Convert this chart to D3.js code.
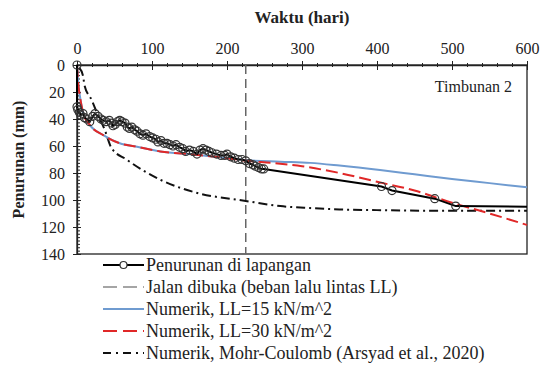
<!DOCTYPE html>
<html>
<head>
<meta charset="utf-8">
<script src="https://cdn.jsdelivr.net/npm/d3@7"></script>
<style>
  body { margin: 0; background: #fff; }
  svg { display: block; }
  svg text { font-family: 'Liberation Serif', 'DejaVu Serif', serif; fill: #222; }
</style>
</head>
<body>
<svg width="542" height="369"></svg>
<script>
// field measurements (days, mm)
const fieldDays = [0, 0, 1, 3, 5, 8, 10, 13, 17, 21, 24, 28, 32, 35, 39, 43, 46, 48, 51, 54, 57, 60, 64, 67, 70, 73, 77, 80, 84, 88, 92, 97, 101, 105, 108, 112, 116, 120, 124, 128, 132, 137, 141, 145, 150, 155, 160, 164, 168, 172, 176, 180, 186, 192, 197, 200, 205, 210, 215, 220, 225, 230, 235, 238, 242, 246, 249, 406, 420, 477, 505];
const fieldSettle = [0, 31, 33, 35, 37, 36, 39, 40, 42, 38, 36, 38, 40, 41, 42, 41, 43, 45, 44, 42, 41, 42, 43, 46, 47, 46, 48, 49, 51, 52, 51, 53, 54, 55, 57, 56, 58, 58, 59, 60, 59, 61, 62, 64, 63, 64, 66, 63, 62, 63, 64, 65, 66, 67, 67, 66, 68, 69, 70, 70, 71, 73, 74, 75, 76, 77, 77, 90, 93, 99, 104.5];
const fieldEnd = [600, 105];

// numerical LL = 15 kN/m^2
const ll15Days = [0, 1.5, 4, 8.5, 17, 35, 57, 80, 111, 155, 200, 226, 271, 311, 350, 404, 450, 500, 550, 600];
const ll15Settle = [0, 13, 23.5, 36, 44.4, 52, 58, 60.5, 64, 66.3, 69, 70.5, 71.6, 72.5, 74.5, 77.8, 81, 84.5, 87.5, 90.6];

// numerical LL = 30 kN/m^2
const ll30Days = [0, 1.5, 4, 8.5, 17, 35, 57, 80, 111, 155, 200, 226, 260, 300, 350, 400, 450, 500, 550, 600];
const ll30Settle = [0, 13, 23.5, 36, 44.4, 52, 58, 60.5, 64, 66.3, 69, 71, 72.5, 75, 80, 86.5, 93, 102, 110, 118.5];

// Mohr-Coulomb (Arsyad et al., 2020)
const mcDays = [3, 8, 10, 19.6, 26, 37, 46, 66, 111, 155, 225, 271, 311, 350, 400, 500, 600];
const mcSettle = [2, 8, 15, 26, 34.6, 48, 61.5, 70, 85, 94, 100.7, 104.5, 106, 107, 107.5, 108, 108];

const roadOpenDay = 225;

const xTicks = [0, 100, 200, 300, 400, 500, 600];
const yTicks = [0, 20, 40, 60, 80, 100, 120, 140];

const legendLabels = [
  'Penurunan di lapangan',
  'Jalan dibuka (beban lalu lintas LL)',
  'Numerik, LL=15 kN/m^2',
  'Numerik, LL=30 kN/m^2',
  'Numerik, Mohr-Coulomb (Arsyad et al., 2020)'
];

const svg = d3.select('svg');
const pLeft = 77, pRight = 527, pTop = 65, pBottom = 254;
const serif = "'Liberation Serif', 'DejaVu Serif', serif";

const x = d3.scaleLinear().domain([0, 600]).range([pLeft, pRight]);
const y = d3.scaleLinear().domain([0, 140]).range([pTop, pBottom]);

const zip = (a, b) => a.map((d, i) => [d, b[i]]);
const line = d3.line().x(d => x(d[0])).y(d => y(d[1]));
const smooth = d3.line().x(d => x(d[0])).y(d => y(d[1])).curve(d3.curveMonotoneX);

// frame
svg.append('rect')
  .attr('x', pLeft).attr('y', pTop)
  .attr('width', pRight - pLeft).attr('height', pBottom - pTop)
  .attr('fill', 'none').attr('stroke', '#222').attr('stroke-width', 1.3);

// x axis on top
const xMinor = d3.range(0, 601, 20);
svg.append('g').attr('transform', `translate(0,${pTop})`)
  .call(d3.axisTop(x).tickValues(xMinor).tickSize(2).tickFormat(''))
  .call(g => g.select('.domain').remove());
svg.append('g').attr('transform', `translate(0,${pTop})`)
  .call(d3.axisTop(x).tickValues(xMinor).tickSize(-2).tickFormat(''))
  .call(g => g.select('.domain').remove());
svg.append('g').attr('transform', `translate(0,${pTop})`)
  .call(d3.axisTop(x).tickValues(xTicks).tickSize(-5).tickFormat(''))
  .call(g => g.select('.domain').remove());
svg.append('g').attr('transform', `translate(0,${pTop})`)
  .call(d3.axisTop(x).tickValues(xTicks).tickSizeInner(4).tickSizeOuter(0).tickPadding(7))
  .attr('font-family', serif).attr('font-size', 16)
  .call(g => g.select('.domain').attr('stroke', '#222').attr('stroke-width', 1.3))
  .call(g => g.selectAll('text').attr('fill', '#222'));

// y axis
const yMinor = d3.range(0, 140.1, 2.5);
svg.append('g').attr('transform', `translate(${pLeft},0)`)
  .call(d3.axisLeft(y).tickValues(yMinor).tickSize(-3).tickFormat(''))
  .call(g => g.select('.domain').remove());
svg.append('g').attr('transform', `translate(${pLeft},0)`)
  .call(d3.axisLeft(y).tickValues(yTicks).tickSize(-4).tickFormat(''))
  .call(g => g.select('.domain').remove());
svg.append('g').attr('transform', `translate(${pLeft},0)`)
  .call(d3.axisLeft(y).tickValues(yTicks).tickSizeInner(4).tickSizeOuter(0).tickPadding(8))
  .attr('font-family', serif).attr('font-size', 16)
  .call(g => g.select('.domain').attr('stroke', '#222').attr('stroke-width', 1.3))
  .call(g => g.selectAll('text').attr('fill', '#222'));
svg.selectAll('.tick line').attr('stroke', '#222');

// axis titles
svg.append('text')
  .attr('x', (pLeft + pRight) / 2).attr('y', 23)
  .attr('text-anchor', 'middle')
  .attr('font-family', serif).attr('font-size', 17).attr('font-weight', 'bold')
  .text('Waktu (hari)');
svg.append('text')
  .attr('transform', `translate(24,${(pTop + pBottom) / 2}) rotate(-90)`)
  .attr('text-anchor', 'middle')
  .attr('font-family', serif).attr('font-size', 16).attr('font-weight', 'bold')
  .text('Penurunan (mm)');

svg.append('text')
  .attr('x', 512).attr('y', 92)
  .attr('text-anchor', 'end')
  .attr('font-family', serif).attr('font-size', 16)
  .text('Timbunan 2');

// road opening
svg.append('line')
  .attr('x1', x(roadOpenDay)).attr('x2', x(roadOpenDay))
  .attr('y1', y(0)).attr('y2', y(140))
  .attr('stroke', '#666').attr('stroke-width', 1.5).attr('stroke-dasharray', '9,5');

// numerical curves
svg.append('path').datum(zip(mcDays, mcSettle))
  .attr('d', smooth).attr('fill', 'none')
  .attr('stroke', '#111').attr('stroke-width', 2).attr('stroke-dasharray', '9,4,2,4');
svg.append('path').datum(zip(ll15Days, ll15Settle))
  .attr('d', smooth).attr('fill', 'none')
  .attr('stroke', '#6f9bd0').attr('stroke-width', 2);
svg.append('path').datum(zip(ll30Days, ll30Settle))
  .attr('d', smooth).attr('fill', 'none')
  .attr('stroke', '#e02828').attr('stroke-width', 2).attr('stroke-dasharray', '12,5');

// field data
const field = zip(fieldDays, fieldSettle);
svg.append('path').datum(field.concat([fieldEnd]))
  .attr('d', line).attr('fill', 'none')
  .attr('stroke', '#000').attr('stroke-width', 2);
svg.append('g').selectAll('circle').data(field).join('circle')
  .attr('cx', d => x(d[0])).attr('cy', d => y(d[1])).attr('r', 4)
  .attr('fill', 'none').attr('stroke', '#333').attr('stroke-width', 1.2);

// legend
const lg = svg.append('g').attr('font-family', serif).attr('font-size', 18);
const rowY = i => 265 + i * 22;
const lx0 = 103, lx1 = 144;
legendLabels.forEach((t, i) => {
  lg.append('text').attr('x', 146).attr('y', rowY(i) + 6).text(t);
});
lg.append('line').attr('x1', lx0).attr('x2', lx1).attr('y1', rowY(0)).attr('y2', rowY(0))
  .attr('stroke', '#000').attr('stroke-width', 2);
lg.append('circle').attr('cx', (lx0 + lx1) / 2).attr('cy', rowY(0)).attr('r', 3.5)
  .attr('fill', '#fff').attr('stroke', '#333').attr('stroke-width', 1.2);
lg.append('line').attr('x1', lx0).attr('x2', lx1).attr('y1', rowY(1)).attr('y2', rowY(1))
  .attr('stroke', '#888').attr('stroke-width', 1.5).attr('stroke-dasharray', '14,6');
lg.append('line').attr('x1', lx0).attr('x2', lx1).attr('y1', rowY(2)).attr('y2', rowY(2))
  .attr('stroke', '#6f9bd0').attr('stroke-width', 2);
lg.append('line').attr('x1', lx0).attr('x2', lx1).attr('y1', rowY(3)).attr('y2', rowY(3))
  .attr('stroke', '#e02828').attr('stroke-width', 2).attr('stroke-dasharray', '14,6');
lg.append('line').attr('x1', lx0).attr('x2', lx1).attr('y1', rowY(4)).attr('y2', rowY(4))
  .attr('stroke', '#111').attr('stroke-width', 2).attr('stroke-dasharray', '8,5,2,5');
</script>
</body>
</html>
